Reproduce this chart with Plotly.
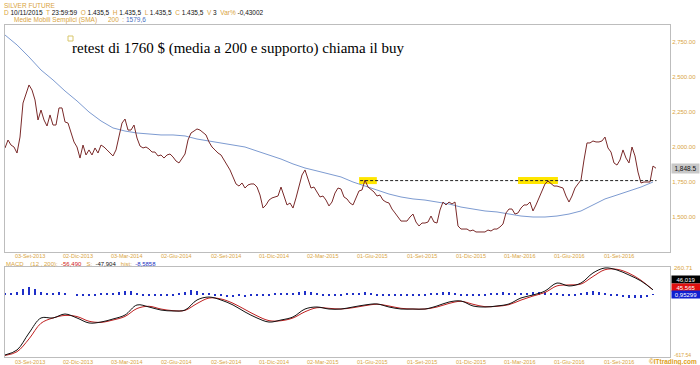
import plotly.graph_objects as go
import pandas as pd

# ---------------- data ----------------
start_date = "2013-07-19"
end_date = "2016-11-08"

price = [
    1993, 2050, 2014, 2000, 1957, 2071, 2314, 2371, 2443, 2407,
    2336, 2193, 2264, 2193, 2150, 2229, 2157, 2157, 2279, 2279,
    2179, 2171, 2107, 2036, 2000, 1921, 2014, 1943, 1979, 1943,
    1993, 1957, 2014, 2000, 1979, 1957, 1936, 1979, 2071, 2171,
    2200, 2121, 2121, 2157, 2064, 2007, 1993, 2000, 1986, 1964,
    1964, 1936, 1943, 1921, 1943, 1950, 1929, 1900, 1886, 1914,
    1950, 2050, 2100, 2114, 2129, 2121, 2100, 2086, 2036, 2000,
    1979, 1957, 1943, 1907, 1879, 1836, 1786, 1736, 1721, 1743,
    1707, 1729, 1736, 1736, 1714, 1657, 1564, 1586, 1621, 1636,
    1643, 1650, 1714, 1650, 1586, 1600, 1564, 1636, 1714, 1800,
    1836, 1779, 1707, 1714, 1679, 1643, 1650, 1621, 1579, 1607,
    1671, 1707, 1700, 1643, 1629, 1600, 1586, 1643, 1686, 1693,
    1764, 1714, 1693, 1679, 1650, 1657, 1621, 1607, 1600, 1557,
    1529, 1500, 1471, 1471, 1471, 1500, 1521, 1464, 1436, 1457,
    1457, 1464, 1507, 1464, 1457, 1550, 1607, 1586, 1607, 1593,
    1607, 1436, 1414, 1414, 1414, 1400, 1407, 1393, 1393, 1393,
    1393, 1407, 1400, 1414, 1414, 1429, 1450, 1529, 1557, 1557,
    1521, 1529, 1564, 1586, 1586, 1607, 1543, 1586, 1636, 1693,
    1736, 1757, 1736, 1721, 1721, 1714, 1707, 1650, 1607, 1650,
    1707, 1736, 1764, 1907, 2029, 2029, 2043, 2036, 2036, 2043,
    2071, 1993, 1964, 1886, 1871, 1907, 1979, 1921, 1886, 2000,
    1936, 1821, 1743, 1750, 1750, 1750, 1864, 1848.5,
]

sma200 = [
    2800, 2729, 2643, 2550, 2479, 2400, 2329, 2250, 2186, 2136,
    2114, 2100, 2093, 2086, 2086, 2079, 2057, 2043, 2029, 2014,
    2000, 1971, 1943, 1914, 1879, 1850, 1829, 1807, 1786, 1750,
    1721, 1693, 1664, 1643, 1629, 1621, 1607, 1593, 1571, 1557,
    1543, 1536, 1521, 1507, 1500, 1500, 1507, 1521, 1543, 1586,
    1629, 1657, 1686, 1714, 1750,
]

macd = [
    -595, -546, -379, -231, -231, -192, -231, -280, -271, -241,
    -202, -103, -123, -153, -162, -153, -54, -25, -54, -103,
    -172, -231, -271, -251, -221, -143, -123, -143, -143, -123,
    -103, -93, -123, -143, -143, -143, -113, -74, -64, -113,
    -123, -113, -93, -34, -5, 34, 113, 84, 113, 212,
    261, 241, 192, 133, 46.019,
]

signal = [
    -600, -563, -437, -283, -231, -206, -217, -263, -274, -251,
    -216, -138, -116, -143, -159, -156, -89, -35, -44, -86,
    -148, -210, -257, -258, -231, -170, -130, -136, -143, -130,
    -110, -96, -113, -136, -143, -143, -123, -88, -67, -96,
    -120, -116, -100, -55, -15, 20, 85, 94, 103, 177,
    244, 248, 209, 140, 45.565,
]

hist = [
    10, 15, 25, 50, 70, 55, 25, 10, 15, 20,
    15, 0, -10, -15, -10, -5, 10, 15, 10, 20,
    35, 30, 10, -5, -10, -15, -10, -15, -10, 5,
    25, 40, 30, 10, 5, -5, -15, -20, -20, -15,
    -20, -15, -10, -10, -5, 5, 10, 5, 15, 25,
    35, 20, 5, -10, -15, -10, -5, 5, 10, 15,
    20, 5, -10, -10, -5, -10, -15, -10, -5, -10,
    -5, 5, 10, 20, 25, 15, -5, -10, -15, -10,
    -5, 5, 15, 20, 15, 10, 10, 15, 20, 25,
    20, 15, 10, -5, -10, -5, 10, 25, 30, 20,
    5, -5, -10, -20, -30, -35, -30, -25, 1,
]

date_ticks = ["2013-09-03", "2013-12-02", "2014-03-03", "2014-06-02", "2014-09-02",
              "2014-12-01", "2015-03-02", "2015-06-01", "2015-09-01", "2015-12-01",
              "2016-03-01", "2016-06-01", "2016-09-01"]
date_labels = ["03-Set-2013", "02-Dic-2013", "03-Mar-2014", "02-Giu-2014", "02-Set-2014",
               "01-Dic-2014", "02-Mar-2015", "01-Giu-2015", "01-Set-2015", "01-Dic-2015",
               "01-Mar-2016", "01-Giu-2016", "01-Set-2016"]

price_ticks = [1500, 1750, 2000, 2250, 2500, 2750]
price_labels = ["1,500.00", "1,750.00", "2,000.00", "2,250.00", "2,500.00", "2,750.00"]

support_level = 1760
support_start = "2015-05-09"
support_end = "2016-11-09"
highlight_ranges = [("2015-05-07", "2015-06-09"), ("2016-02-26", "2016-05-10")]
highlight_band = (1735, 1785)
last_price_label = "1,848.5"
macd_top_label, macd_bottom_label = "260.71", "-617.54"

# ---------------- styling ----------------
W, H = 700, 365
GOLD = "#D9A441"
BORDER = "#BDBDBD"
FONT = "Liberation Sans, Arial, sans-serif"

def px_x(p):
    return p / W

def px_y(p):
    return 1 - p / H

dates = pd.date_range(start_date, end_date, periods=len(price))
sma_dates = dates[::4]
hist_dates = dates[::2]

x_range = ["2013-07-19", "2016-12-04"]
xdom = [px_x(5), px_x(670)]

fig = go.Figure()

fig.add_trace(go.Scatter(x=sma_dates, y=sma200, mode="lines",
                         line=dict(color="#7D9BD1", width=1), xaxis="x", yaxis="y"))
fig.add_trace(go.Scatter(x=dates, y=price, mode="lines",
                         line=dict(color="#7A2A2A", width=1), xaxis="x", yaxis="y"))
fig.add_trace(go.Scatter(x=[support_start, support_end], y=[support_level, support_level],
                         mode="lines", line=dict(color="#222222", width=1, dash="3px,2px"),
                         xaxis="x", yaxis="y"))

fig.add_trace(go.Bar(x=hist_dates, y=hist, marker=dict(color="#1F2FC8", line=dict(width=0)),
                     width=[1000 * 3600 * 24 * 5] * len(hist), xaxis="x2", yaxis="y2"))
fig.add_trace(go.Scatter(x=sma_dates, y=signal, mode="lines",
                         line=dict(color="#C02020", width=1, shape="spline"), xaxis="x2", yaxis="y2"))
fig.add_trace(go.Scatter(x=sma_dates, y=macd, mode="lines",
                         line=dict(color="#111111", width=1, shape="spline"), xaxis="x2", yaxis="y2"))

common_x = dict(type="date", range=x_range, domain=xdom, showgrid=False, zeroline=False,
                showline=True, mirror=True, linecolor=BORDER, linewidth=1, ticks="",
                tickmode="array", tickvals=date_ticks, showticklabels=False)

shapes = []
for a, b in highlight_ranges:
    shapes.append(dict(type="rect", xref="x", yref="y", x0=a, x1=b,
                       y0=highlight_band[0], y1=highlight_band[1],
                       fillcolor="#FFE600", line=dict(width=0), layer="below"))
shapes.append(dict(type="rect", xref="paper", yref="paper",
                   x0=px_x(68), x1=px_x(73), y0=px_y(41), y1=px_y(36),
                   line=dict(color="#D8C66A", width=1)))

anns = []
# date labels under each panel
for xr, ypx in [("x", 256), ("x2", 362)]:
    for d, t in zip(date_ticks, date_labels):
        anns.append(dict(xref=xr, yref="paper", x=d, y=px_y(ypx), xanchor="center", yanchor="middle",
                         showarrow=False, text=t, font=dict(family=FONT, size=5.5, color=GOLD)))

anns.append(dict(xref="paper", yref="paper", x=px_x(70), y=px_y(48), xanchor="left",
                 yanchor="middle", showarrow=False,
                 text="retest di 1760 $ (media a 200 e supporto) chiama il buy",
                 font=dict(family="Liberation Serif, Times New Roman, serif", size=15, color="#000000")))

def g(t):
    return f"<span style='color:{GOLD}'>{t}</span>"

anns.append(dict(xref="paper", yref="paper", x=px_x(2), y=px_y(5), xanchor="left", yanchor="middle",
                 showarrow=False, text=g("SILVER FUTURE"),
                 font=dict(family=FONT, size=6.5, color=GOLD)))
line2 = (g("D") + " 10/11/2015  " + g("T") + " 23:59:59  " + g("O") + " 1.435,5  " + g("H") +
         " 1.435,5  " + g("L") + " 1.435,5  " + g("C") + " 1.435,5  " + g("V") + " 3  " +
         g("Var%") + " -0,43002")
anns.append(dict(xref="paper", yref="paper", x=px_x(2), y=px_y(13), xanchor="left", yanchor="middle",
                 showarrow=False, text=line2, font=dict(family=FONT, size=6.5, color="#111111")))
line3 = g("Medie Mobili Semplici (SMA)      200  :") + " <span style='color:#4A6FC0'>1579,6</span>"
anns.append(dict(xref="paper", yref="paper", x=px_x(12), y=px_y(20), xanchor="left", yanchor="middle",
                 showarrow=False, text=line3, font=dict(family=FONT, size=6.5, color=GOLD)))

macd_leg = (g("MACD    (12 , 200):") + "  <span style='color:#D02020'>-56,490</span>   " + g("S:") +
            "  <span style='color:#111111'>-47,904</span>   " + g("hist:") +
            "  <span style='color:#2030C0'>-8,5858</span>")
anns.append(dict(xref="paper", yref="paper", x=px_x(4), y=px_y(263.5), xanchor="left", yanchor="middle",
                 showarrow=False, text=macd_leg, font=dict(family=FONT, size=6, color=GOLD)))

anns.append(dict(xref="paper", yref="y", x=px_x(671), y=1848.5, xanchor="left", yanchor="middle",
                 showarrow=False, text=last_price_label, bgcolor="#C8C8C8", width=27, height=9,
                 borderpad=0, font=dict(family=FONT, size=6.5, color="#111111")))

anns.append(dict(xref="paper", yref="paper", x=px_x(672), y=px_y(268), xanchor="left", yanchor="middle",
                 showarrow=False, text=macd_top_label, font=dict(family=FONT, size=6, color=GOLD)))
anns.append(dict(xref="paper", yref="paper", x=px_x(672), y=px_y(355), xanchor="left", yanchor="middle",
                 showarrow=False, text=macd_bottom_label, font=dict(family=FONT, size=5, color=GOLD)))
for yy, txt, bg in [(279.5, "46,019", "#000000"), (287.5, "45,565", "#E01010"), (294.5, "0,95299", "#1020D0")]:
    anns.append(dict(xref="paper", yref="paper", x=px_x(671), y=px_y(yy), xanchor="left", yanchor="middle",
                     showarrow=False, text=txt, bgcolor=bg, width=28, height=7, borderpad=0,
                     font=dict(family=FONT, size=6, color="#FFFFFF")))
anns.append(dict(xref="paper", yref="paper", x=px_x(699), y=px_y(362), xanchor="right", yanchor="middle",
                 showarrow=False, text="<b>©ITtrading.com</b>",
                 font=dict(family=FONT, size=6.5, color="#E0A020")))

fig.update_layout(
    width=W, height=H, margin=dict(l=0, r=0, t=0, b=0),
    paper_bgcolor="white", plot_bgcolor="white", showlegend=False, bargap=0,
    xaxis=dict(anchor="y", **common_x),
    yaxis=dict(domain=[px_y(252), px_y(25)], range=[1250, 2871.4], side="right",
               showgrid=False, zeroline=False, showline=True, mirror=True, linecolor=BORDER,
               ticks="", tickmode="array", tickvals=price_ticks, ticktext=price_labels,
               tickfont=dict(family=FONT, size=6, color=GOLD), anchor="x"),
    xaxis2=dict(anchor="y2", **common_x),
    yaxis2=dict(domain=[px_y(357), px_y(267)], range=[-615, 270.6], side="right",
                showgrid=False, zeroline=False, showline=True, mirror=True, linecolor=BORDER,
                showticklabels=False, ticks="", anchor="x2"),
    shapes=shapes, annotations=anns,
)

fig.write_html("out.html")
